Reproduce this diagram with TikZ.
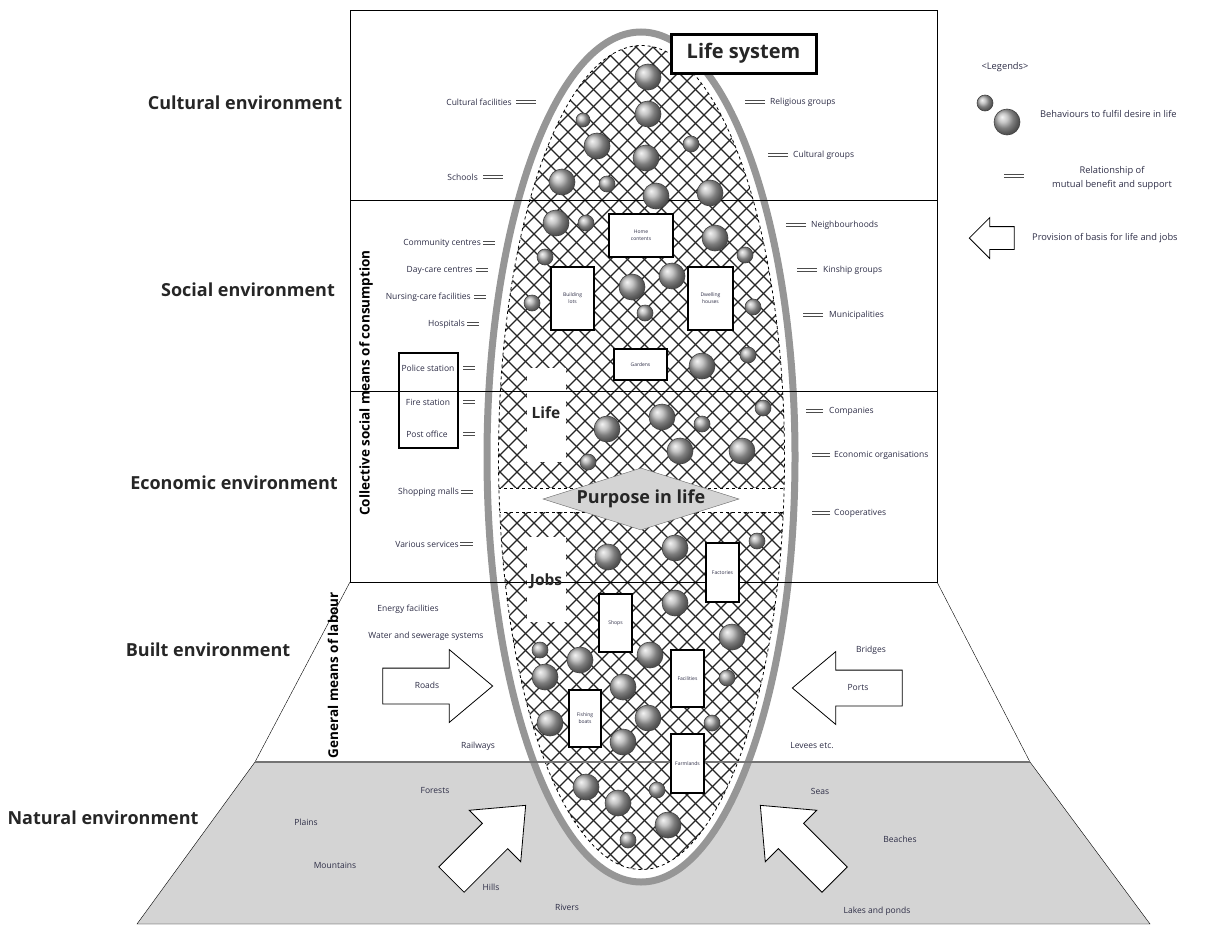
\documentclass[tikz,border=0pt]{standalone}
\usepackage{fontspec}
\setmainfont{Open Sans}
\usetikzlibrary{shapes.geometric, shapes.arrows}

\definecolor{ringgray}{RGB}{150,150,150}
\definecolor{landgray}{RGB}{212,212,212}
\definecolor{inkblue}{RGB}{45,45,70}

\tikzstyle{envlabel} = [font=\bfseries\fontsize{18}{20}\selectfont, text=black!85]
\tikzstyle{sidelabel} = [font=\bfseries\fontsize{13.5}{15}\selectfont, rotate=90]
\tikzstyle{item} = [font=\fontsize{8.5}{10}\selectfont, text=inkblue, inner sep=0pt]
\tikzstyle{legendtext} = [font=\fontsize{9.3}{11}\selectfont, text=inkblue, inner sep=0pt]
\tikzstyle{tie} = [draw=black!70, double=white, double distance=2.2pt, line width=0.9pt]
\tikzstyle{unit} = [rectangle, draw, line width=2pt, fill=white,
    font=\fontsize{5}{7}\selectfont, text=inkblue, align=center, inner sep=1pt]
\tikzstyle{bigarrow} = [single arrow, draw, fill=white, line width=0.8pt,
    minimum height=110pt, minimum width=72pt, single arrow head extend=18.5pt,
    single arrow tip angle=80, text height=6pt, text depth=2pt, inner ysep=13.5pt,
    font=\fontsize{8.5}{10}\selectfont, text=inkblue]
\tikzstyle{hatch} = [line width=1.2pt, black!85]
\tikzstyle{orb} = [ball color=gray!60, draw=black!75, line width=0.6pt]

\begin{document}
\begin{tikzpicture}[x=1pt, y=-1pt]
\useasboundingbox (0,0) rectangle (1228,926);

% Environment layers
\draw[fill=landgray] (255,762) -- (1030,762) -- (1150,924) -- (137,924) -- cycle;
\draw (350,582) -- (255,762);
\draw (937,582) -- (1030,762);
\draw (350,10) rectangle (937,582);

% Life system ellipse
\draw[ringgray, line width=7pt, fill=white] (641,457) ellipse [x radius=154, y radius=425];
\begin{scope}
    \clip (641.5,457.5) ellipse [x radius=143, y radius=412];
    \foreach \k in {-380,-363,...,760}
        \draw[hatch] (\k,0) -- ++(926,926);
    \foreach \k in {530,547,...,1670}
        \draw[hatch] (\k,0) -- ++(-926,926);
    \fill[white] (527,368) rectangle (566,462);
    \fill[white] (527,537) rectangle (566,622);
    \fill[white] (480,488) rectangle (800,512);
    \draw[dashed, line width=0.8pt] (480,488) -- (800,488);
    \draw[dashed, line width=0.8pt] (480,512) -- (800,512);
\end{scope}
\draw[dashed, line width=0.8pt] (641.5,457.5) ellipse [x radius=143, y radius=412];

% Layer borders
\draw (350,200) -- (937,200);
\draw (350,391) -- (937,391);
\draw (350,582) -- (937,582);
\draw[line width=1.5pt, black!55] (255,762) -- (1030,762);

% Behaviours
\foreach \x/\y/\r in {648/77/13, 648/114/13, 583/120/7, 597/146/13, 646/158/13,
    691/144/8, 562/182/13, 607/184/8, 656/196/13, 710/193/13,
    556/223/13, 586/223/8, 715/238/13, 545/257/8, 632/287/13, 672/276/13,
    745/255/8, 532/303/8, 645/313/8, 753/307/8, 702/366/13, 748/355/8,
    607/429/13, 662/417/13, 702/424/8, 680/451/13, 742/451/13, 763/408/8, 588/462/8,
    608/557/13, 675/548/13, 757/541/8, 675/603/13, 732/637/13,
    540/650/8, 580/660/13, 545/677/13, 650/655/13, 623/687/13, 727/678/8,
    550/723/13, 648/718/13, 623/742/13, 712/723/8,
    586/787/13, 618/803/13, 657/790/8, 668/825/13, 628/840/8}
    \shadedraw[orb] (\x,\y) circle (\r);

% Places and means inside the life system
\node[unit, line width=3pt, font=\bfseries\fontsize{20}{22}\selectfont, text=black!85,
    minimum width=145pt, minimum height=39pt] (lifesys) at (743.5,53.5) {Life system};
\node[unit, minimum width=64pt, minimum height=43pt] (homecont) at (641,235.5) {Home\\contents};
\node[unit, minimum width=43pt, minimum height=63pt] (buildlots) at (572.5,298.5) {Building\\lots};
\node[unit, minimum width=45pt, minimum height=63pt] (dwelling) at (710.5,298.5) {Dwelling\\houses};
\node[unit, minimum width=53pt, minimum height=31pt] (gardens) at (640.5,364.5) {Gardens};
\node[unit, minimum width=33pt, minimum height=59pt] (factories) at (722.5,572.5) {Factories};
\node[unit, minimum width=33pt, minimum height=58pt] (shops) at (615.5,623) {Shops};
\node[unit, minimum width=33pt, minimum height=57pt] (facilities) at (687.5,678.5) {Facilities};
\node[unit, minimum width=32pt, minimum height=57pt] (fishing) at (585,718.5) {Fishing\\boats};
\node[unit, minimum width=33pt, minimum height=59pt] (farmlands) at (687.5,763.5) {Farmlands};

\node[font=\bfseries\fontsize{15.5}{17}\selectfont, text=black!85] (life) at (546,413) {Life};
\node[font=\bfseries\fontsize{15.5}{17}\selectfont, text=black!85] (jobs) at (546,581) {Jobs};
\node[diamond, draw=black!60, fill=landgray, aspect=3.2, inner sep=0pt,
    minimum width=196pt, minimum height=62pt,
    font=\bfseries\fontsize{18}{20}\selectfont, text=black!85] (purpose) at (641,499) {Purpose in life};

% Environment names
\node[envlabel] (cultural) at (245,103) {Cultural environment};
\node[envlabel] (social) at (248,290) {Social environment};
\node[envlabel] (economic) at (234,483) {Economic environment};
\node[envlabel] (built) at (208,650) {Built environment};
\node[envlabel] (natural) at (103,818) {Natural environment};
\node[sidelabel] (collective) at (366,383) {Collective social means of consumption};
\node[sidelabel] (labour) at (333,675) {General means of labour};

% Cultural environment
\node[item, anchor=east] (cultfac) at (512,102) {Cultural facilities};
\node[item, anchor=east] (schools) at (478,177) {Schools};
\node[item, anchor=west] (religious) at (770,102) {Religious groups};
\node[item, anchor=west] (cultgroups) at (793,155) {Cultural groups};
\draw[tie] ([xshift=4pt]cultfac.east) -- ++(20,0);
\draw[tie] ([xshift=5pt]schools.east) -- ++(20,0);
\draw[tie] ([xshift=-5pt]religious.west) -- ++(-20,0);
\draw[tie] ([xshift=-5pt]cultgroups.west) -- ++(-20,0);

% Social environment
\node[item, anchor=east] (community) at (481,243) {Community centres};
\node[item, anchor=east] (daycare) at (473,270) {Day-care centres};
\node[item, anchor=east] (nursing) at (471,297) {Nursing-care facilities};
\node[item, anchor=east] (hospitals) at (465,324) {Hospitals};
\node[rectangle, draw, line width=2pt, minimum width=59pt, minimum height=95pt] (publicbox) at (428.5,400.5) {};
\node[item] (police) at (428,368) {Police station};
\node[item] (fire) at (428,402) {Fire station};
\node[item] (post) at (427,434) {Post office};
\node[item, anchor=west] (neighbour) at (811,225) {Neighbourhoods};
\node[item, anchor=west] (kinship) at (823,270) {Kinship groups};
\node[item, anchor=west] (municip) at (829,315) {Municipalities};
\draw[tie] ([xshift=2pt]community.east) -- ++(12,0);
\draw[tie] ([xshift=3pt]daycare.east) -- ++(12,0);
\draw[tie] ([xshift=3pt]nursing.east) -- ++(12,0);
\draw[tie] ([xshift=2pt]hospitals.east) -- ++(12,0);
\draw[tie] ([xshift=4pt]publicbox.east |- police) -- ++(12,0);
\draw[tie] ([xshift=4pt]publicbox.east |- fire) -- ++(12,0);
\draw[tie] ([xshift=4pt]publicbox.east |- post) -- ++(12,0);
\draw[tie] ([xshift=-5pt]neighbour.west) -- ++(-20,0);
\draw[tie] ([xshift=-6pt]kinship.west) -- ++(-20,0);
\draw[tie] ([xshift=-6pt]municip.west) -- ++(-20,0);

% Economic environment
\node[item, anchor=east] (shopping) at (459,492) {Shopping malls};
\node[item, anchor=east] (services) at (459,544) {Various services};
\node[item, anchor=west] (companies) at (829,411) {Companies};
\node[item, anchor=west] (econorg) at (834,455) {Economic organisations};
\node[item, anchor=west] (coops) at (834,513) {Cooperatives};
\draw[tie] ([xshift=2pt]shopping.east) -- ++(12,0);
\draw[tie] ([xshift=1pt]services.east) -- ++(13,0);
\draw[tie] ([xshift=-6pt]companies.west) -- ++(-17,0);
\draw[tie] ([xshift=-4pt]econorg.west) -- ++(-18,0);
\draw[tie] ([xshift=-4pt]coops.west) -- ++(-18,0);

% Built environment
\node[item] (energy) at (408,609) {Energy facilities};
\node[item] (water) at (426,636) {Water and sewerage systems};
\node[item] (railways) at (478,746) {Railways};
\node[item] (bridges) at (871,650) {Bridges};
\node[item] (levees) at (812,746) {Levees etc.};
\node[bigarrow] (roads) at (427,686) {Roads};
\node[bigarrow, shape border rotate=180] (ports) at (858,688) {Ports};

% Natural environment
\node[item] (forests) at (435,790) {Forests};
\node[item] (plains) at (306,822) {Plains};
\node[item] (mountains) at (335,865) {Mountains};
\node[item] (hills) at (491,887) {Hills};
\node[item] (rivers) at (567,907) {Rivers};
\node[item] (seas) at (820,791) {Seas};
\node[item] (beaches) at (900,839) {Beaches};
\node[item] (lakes) at (877,911) {Lakes and ponds};
\node[bigarrow, rotate=45, minimum height=105pt] (landleft) at (481,850) {};
\node[bigarrow, rotate=135, minimum height=105pt] (landright) at (805,850) {};

% Legends
\node[legendtext] (legends) at (1005,67) {<Legends>};
\shadedraw[orb] (985,103) circle (8);
\shadedraw[orb] (1007,122) circle (13);
\node[legendtext, anchor=west] (behaviours) at (1040,114) {Behaviours to fulfil desire in life};
\coordinate (tiekey) at (1004,176);
\draw[tie] (tiekey) -- ++(20,0);
\node[legendtext, align=center] (relation) at (1112,178) {Relationship of\\[3pt]mutual benefit and support};
\node[single arrow, draw, fill=white, line width=0.8pt, shape border rotate=180,
    minimum height=45pt, minimum width=40pt, single arrow head extend=9pt,
    text height=0pt, text depth=0pt, inner ysep=11pt, inner xsep=0pt] (arrowkey) at (997.5,238) {};
\node[legendtext, anchor=west] (provision) at (1032,238) {Provision of basis for life and jobs};

\end{tikzpicture}
\end{document}
